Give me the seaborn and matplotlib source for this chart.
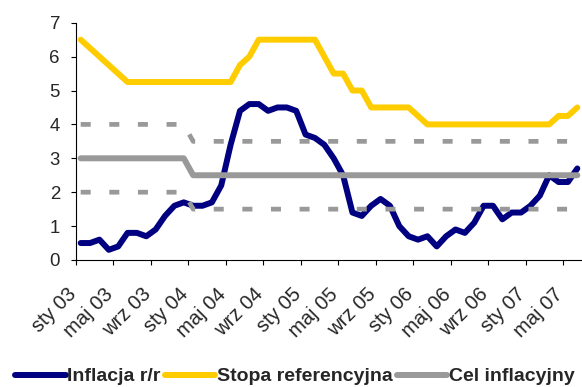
import numpy as np
import pandas as pd
import matplotlib
matplotlib.use("Agg")
import matplotlib.pyplot as plt
import matplotlib.transforms as mtransforms
from matplotlib.lines import Line2D
import seaborn as sns

# --- DATA (monthly, Jan 2003 - Jun 2007) ---
tick_labels = ['sty 03', 'maj 03', 'wrz 03', 'sty 04', 'maj 04', 'wrz 04', 'sty 05',
               'maj 05', 'wrz 05', 'sty 06', 'maj 06', 'wrz 06', 'sty 07', 'maj 07']

inflacja = [0.5, 0.5, 0.6, 0.3, 0.4, 0.8, 0.8, 0.7, 0.9, 1.3, 1.6, 1.7,
            1.6, 1.6, 1.7, 2.2, 3.4, 4.4, 4.6, 4.6, 4.4, 4.5, 4.5, 4.4,
            3.7, 3.6, 3.4, 3.0, 2.5, 1.4, 1.3, 1.6, 1.8, 1.6, 1.0, 0.7,
            0.6, 0.7, 0.4, 0.7, 0.9, 0.8, 1.1, 1.6, 1.6, 1.2, 1.4, 1.4,
            1.6, 1.9, 2.5, 2.3, 2.3, 2.7]

stopa = [6.5, 6.25, 6.0, 5.75, 5.5, 5.25, 5.25, 5.25, 5.25, 5.25, 5.25, 5.25,
         5.25, 5.25, 5.25, 5.25, 5.25, 5.75, 6.0, 6.5, 6.5, 6.5, 6.5, 6.5,
         6.5, 6.5, 6.0, 5.5, 5.5, 5.0, 5.0, 4.5, 4.5, 4.5, 4.5, 4.5,
         4.25, 4.0, 4.0, 4.0, 4.0, 4.0, 4.0, 4.0, 4.0, 4.0, 4.0, 4.0,
         4.0, 4.0, 4.0, 4.25, 4.25, 4.5]

cel = [3.0] * 12 + [2.5] * 42
pasmo_gora = [4.0] * 12 + [3.5] * 42
pasmo_dol = [2.0] * 12 + [1.5] * 42

df = pd.DataFrame({'m': np.arange(len(inflacja)), 'inflacja': inflacja, 'stopa': stopa,
                   'cel': cel, 'gora': pasmo_gora, 'dol': pasmo_dol})

# --- STYLE ---
sns.set_style("white")
plt.rcParams['font.family'] = ['Liberation Sans', 'DejaVu Sans']
plt.rcParams['lines.scale_dashes'] = False

c_blue = '#000080'
c_yellow = '#FFCC00'
c_grey = '#999999'

fig = plt.figure(figsize=(5.82, 3.87), dpi=100)
ax = fig.add_axes([0.1306, 0.3282, 0.8694, 0.6131])

sns.lineplot(data=df, x='m', y='inflacja', color=c_blue, linewidth=4.3,
             solid_capstyle='round', solid_joinstyle='round', ax=ax)
sns.lineplot(data=df, x='m', y='stopa', color=c_yellow, linewidth=4.3,
             solid_capstyle='round', solid_joinstyle='round', ax=ax)
sns.lineplot(data=df, x='m', y='cel', color=c_grey, linewidth=4.3,
             solid_capstyle='round', solid_joinstyle='round', ax=ax)
# pasmo tolerancji (przerywane)
for col in ['gora', 'dol']:
    sns.lineplot(data=df, x='m', y=col, color=c_grey, linewidth=3.4,
                 linestyle=(0, (7.2, 13.4)), ax=ax)

# --- AXES ---
ax.set_xlim(-0.5, len(inflacja) - 0.5)
ax.set_ylim(0, 7)
ax.set_yticks(range(8))
ax.set_xticks(np.arange(-0.5, len(inflacja) - 0.5, 4))
ax.set_xticklabels(tick_labels)
ax.tick_params(axis='x', direction='out', length=3.6, width=0.8, pad=14,
               labelsize=14.5, labelrotation=45, bottom=True, color='black')
ax.tick_params(axis='y', direction='out', length=3.6, width=0.8, pad=8,
               labelsize=13.4, left=True, color='black')
shift = mtransforms.ScaledTranslation(-7 / 72, 0, fig.dpi_scale_trans)
for lbl in ax.get_xticklabels():
    lbl.set_ha('right')
    lbl.set_va('top')
    lbl.set_rotation_mode('anchor')
    lbl.set_transform(lbl.get_transform() + shift)
ax.set_xlabel('')
ax.set_ylabel('')
for s in ['top', 'right']:
    ax.spines[s].set_visible(False)
for s in ['left', 'bottom']:
    ax.spines[s].set_color('black')
    ax.spines[s].set_linewidth(0.8)

handles = [Line2D([], [], color=c_blue, lw=4.3, solid_capstyle='round'),
           Line2D([], [], color=c_yellow, lw=4.3, solid_capstyle='round'),
           Line2D([], [], color=c_grey, lw=4.3, solid_capstyle='round')]
fig.legend(handles, ['Inflacja r/r', 'Stopa referencyjna', 'Cel inflacyjny'],
           loc='center', bbox_to_anchor=(0.507, 0.027), ncol=3, frameon=False,
           prop={'weight': 'bold', 'size': 14}, handlelength=2.6,
           handletextpad=0.1, columnspacing=0.2, borderaxespad=0, borderpad=0)

fig.savefig('out.png', dpi=100)
plt.close(fig)
